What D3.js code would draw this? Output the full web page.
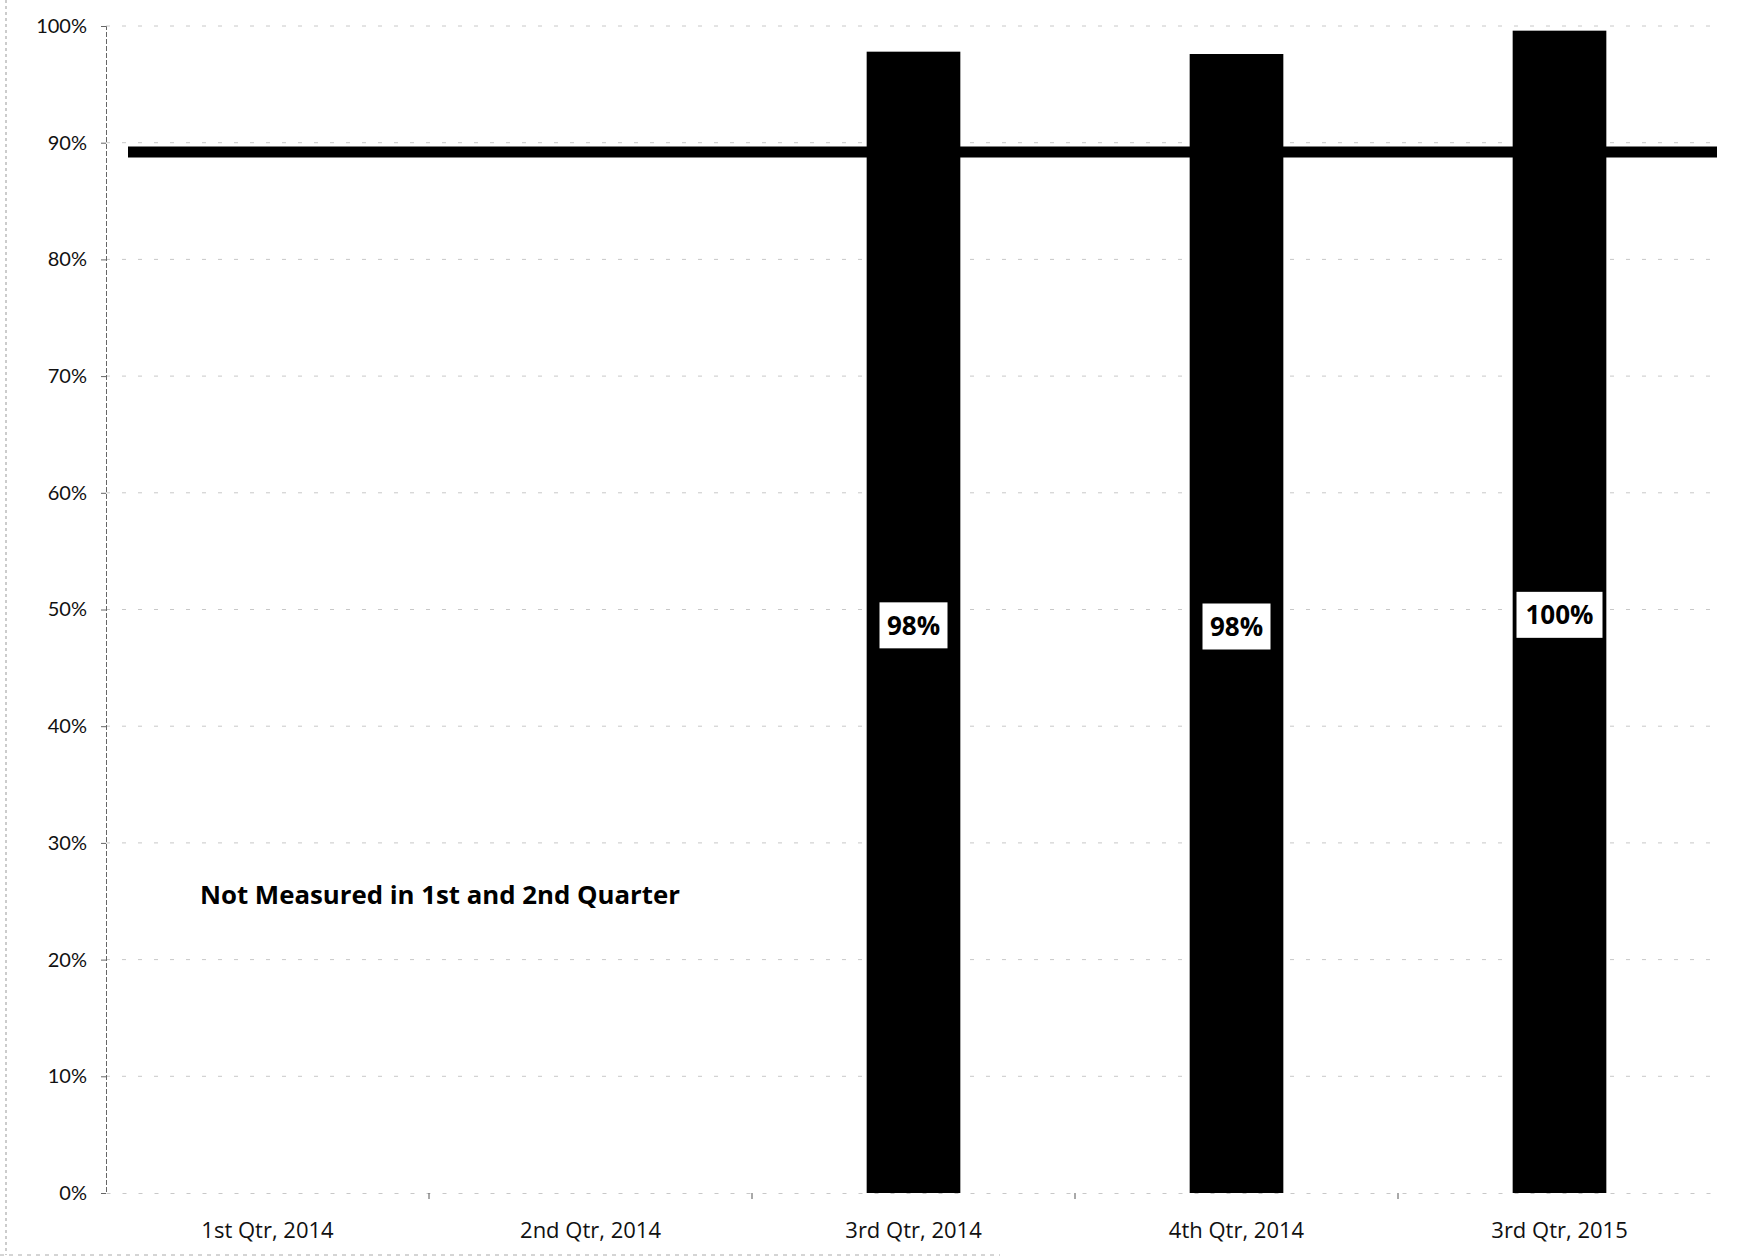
<!DOCTYPE html>
<html><head><meta charset="utf-8">
<script src="https://cdn.jsdelivr.net/npm/d3@7"></script>
<style>body{margin:0;background:#fff}svg{display:block}</style>
</head><body>
<svg id="c" width="1740" height="1260"></svg>
<script>
const categories = ["1st Qtr, 2014","2nd Qtr, 2014","3rd Qtr, 2014","4th Qtr, 2014","3rd Qtr, 2015"];
const actual = [null, null, 0.978, 0.976, 0.996];
const actualLabels = [null, null, "98%", "98%", "100%"];
const target = [0.892, 0.892, 0.892, 0.892, 0.892];
const yTicks = [0,0.1,0.2,0.3,0.4,0.5,0.6,0.7,0.8,0.9,1.0];
const note = "Not Measured in 1st and 2nd Quarter";

const svg = d3.select("#c");
const m = {left:106, right:1721, top:26, bottom:1193};
const x = d3.scaleBand().domain(categories).range([m.left, m.right]).paddingInner(0.71).paddingOuter(0.355);
const xb = d3.scaleBand().domain(categories).range([m.left, m.right]);
const y = d3.scaleLinear().domain([0,1]).range([m.bottom, m.top]);
const font = "'Open Sans', Lato, sans-serif";
const yfont = "Lato, sans-serif";

// page borders (scan edges)
svg.append("line").attr("x1",6).attr("x2",6).attr("y1",0).attr("y2",1255)
  .attr("stroke","#999").attr("stroke-width",1).attr("stroke-dasharray","3,3");
svg.append("line").attr("x1",0).attr("x2",1000).attr("y1",1255).attr("y2",1255)
  .attr("stroke","#aaa").attr("stroke-width",1).attr("stroke-dasharray","4,5");

// gridlines
svg.append("g").selectAll("line").data(yTicks.filter(d=>d>0)).join("line")
  .attr("x1",m.left).attr("x2",m.right).attr("y1",d=>y(d)).attr("y2",d=>y(d))
  .attr("stroke","#c8c8c8").attr("stroke-width",1).attr("stroke-dasharray","4,12");

// y axis
const ya = svg.append("g").attr("transform",`translate(${m.left},0)`)
  .call(d3.axisLeft(y).tickValues(yTicks).tickFormat(d3.format(".0%")).tickSize(5).tickPadding(14));
ya.select(".domain").attr("stroke","#666").attr("stroke-dasharray","5,2");
ya.selectAll(".tick line").attr("stroke","#666");
ya.selectAll("text").attr("font-family",yfont).attr("font-size",20).attr("fill","#111");

// x axis
const xa = svg.append("g").attr("transform",`translate(0,${m.bottom})`)
  .call(d3.axisBottom(xb).tickSize(0).tickPadding(29));
xa.select(".domain").attr("stroke","#c8c8c8").attr("stroke-dasharray","4,12");
xa.selectAll("text").attr("font-family",font).attr("font-size",22).attr("fill","#111");
svg.append("g").selectAll("line").data(categories.slice(1)).join("line")
  .attr("x1",d=>xb(d)).attr("x2",d=>xb(d)).attr("y1",m.bottom).attr("y2",m.bottom+6)
  .attr("stroke","#555");

// bars
const bars = categories.map((c,i)=>({c, v:actual[i], l:actualLabels[i]})).filter(d=>d.v!=null);
svg.append("g").selectAll("rect").data(bars).join("rect")
  .attr("x",d=>x(d.c)).attr("width",x.bandwidth())
  .attr("y",d=>y(d.v)).attr("height",d=>y(0)-y(d.v)).attr("fill","#000");

// target line
const tl = d3.line().x((d,i)=> i===0 ? xb(categories[0])+22 : (i===categories.length-1 ? xb(categories[i])+xb.bandwidth()-4 : xb(categories[i])+xb.bandwidth()/2)).y(d=>y(d));
svg.append("path").datum(target).attr("d",tl).attr("fill","none").attr("stroke","#000").attr("stroke-width",11);

// labels
const lg = svg.append("g").selectAll("g").data(bars).join("g")
  .attr("transform",d=>`translate(${x(d.c)+x.bandwidth()/2},${(y(d.v)+y(0))/2+3})`);
lg.append("rect").attr("x",d=>d.l.length>3?-43:-34).attr("y",-23)
  .attr("width",d=>d.l.length>3?86:68).attr("height",46).attr("fill","#fff");
lg.append("text").text(d=>d.l).attr("text-anchor","middle").attr("dy","0.36em")
  .attr("font-family",font).attr("font-weight","bold").attr("font-size",26).attr("fill","#000");

// note
svg.append("text").attr("x",200).attr("y",904).text(note)
  .attr("font-family",font).attr("font-weight","bold").attr("font-size",25.8).attr("fill","#000");
</script>
</body></html>
